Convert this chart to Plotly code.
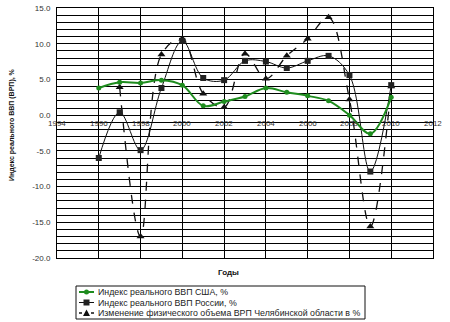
import plotly.graph_objects as go

# ---- data ----
years_usa = list(range(1996, 2011))
usa = [3.8, 4.6, 4.5, 4.9, 4.2, 1.3, 1.9, 2.6, 3.8, 3.2, 2.7, 2.0, 0.0, -2.6, 2.5]

years_rus = list(range(1996, 2011))
rus = [-6.0, 0.4, -4.9, 3.8, 10.4, 5.2, 4.9, 7.6, 7.5, 6.6, 7.6, 8.3, 5.6, -7.9, 4.2]

years_chel = list(range(1997, 2011))
chel = [3.9, -17.0, 8.5, 10.7, 3.0, 1.1, 8.6, 5.1, 8.3, 10.7, 13.7, 2.2, -15.6, 4.0]

x_ticks = [1994, 1996, 1998, 2000, 2002, 2004, 2006, 2008, 2010, 2012]
x_tick_labels = [str(v) for v in x_ticks]

y_grid = list(range(-20, 16))
y_tick_labels = [("%.1f" % v) if v % 5 == 0 else "" for v in y_grid]

names = [
    "Индекс реального ВВП США, %",
    "Индекс реального ВВП России, %",
    "Изменение физического объема ВРП Челябинской области в %",
]
x_title = "Годы"
y_title = "Индекс реального ВВП (ВРП), %"

GREEN = "#1e8c1e"
BLACK = "#111111"
FONT = "Liberation Sans"

fig = go.Figure()
fig.add_trace(go.Scatter(
    x=years_chel, y=chel, name=names[2], mode="lines+markers",
    line=dict(color=BLACK, width=1.3, dash="dash", shape="spline", smoothing=1.0),
    marker=dict(symbol="triangle-up", size=7, color=BLACK)))
fig.add_trace(go.Scatter(
    x=years_rus, y=rus, name=names[1], mode="lines+markers",
    line=dict(color=BLACK, width=1, shape="spline", smoothing=1.0),
    marker=dict(symbol="square", size=6, color="#222222")))
fig.add_trace(go.Scatter(
    x=years_usa, y=usa, name=names[0], mode="lines+markers",
    line=dict(color=GREEN, width=2, shape="spline", smoothing=1.0),
    marker=dict(symbol="circle", size=5, color=GREEN)))

L, R, T, B = 57, 17, 8, 64
W, H = 450, 322
pw, ph = W - L - R, H - T - B


def px(x):
    return (x - L) / pw


def py(y):
    return (H - B - y) / ph


ymin, ymax = -20, 15
fig.update_layout(
    template="none",
    width=W, height=H, margin=dict(l=L, r=R, t=T, b=B),
    paper_bgcolor="white", plot_bgcolor="white",
    showlegend=False,
    font=dict(family=FONT, size=8, color="#222222"),
    xaxis=dict(range=[1994, 2012], tickmode="array", tickvals=x_ticks,
               showticklabels=False,
               showgrid=True, gridcolor="black", gridwidth=1,
               showline=True, linecolor="black", linewidth=1, mirror=True,
               ticks="", zeroline=False),
    yaxis=dict(range=[ymin, ymax], tickmode="array", tickvals=y_grid,
               ticktext=y_tick_labels,
               showgrid=True, gridcolor="black", gridwidth=1,
               showline=True, linecolor="black", linewidth=1, mirror=True,
               zeroline=True, zerolinecolor="black", zerolinewidth=1, ticks="",
               ticklabelstandoff=4,
               tickfont=dict(family=FONT, size=8, color="#333333")),
)

shapes = []
# compact legend box, as in the reference
lx0, lx1, ly0, ly1 = 76, 365, 286, 319
shapes.append(dict(type="rect", xref="paper", yref="paper",
                   x0=px(lx0), x1=px(lx1), y0=py(ly1), y1=py(ly0),
                   line=dict(color=BLACK, width=1), fillcolor="white"))
rows = [292, 302.5, 313]
styles = [(GREEN, 2, "solid"), (BLACK, 1, "solid"), (BLACK, 1.3, "dash")]
for i, ((col, w, d), yy) in enumerate(zip(styles, rows)):
    shapes.append(dict(type="line", xref="paper", yref="paper",
                       x0=px(79), x1=px(94), y0=py(yy), y1=py(yy),
                       line=dict(color=col, width=w, dash="solid" if d == "solid" else "dot")))
    if i == 0:
        shapes.append(dict(type="circle", xref="paper", yref="paper",
                           xsizemode="pixel", ysizemode="pixel",
                           xanchor=px(86.5), yanchor=py(yy),
                           x0=-2.5, x1=2.5, y0=-2.5, y1=2.5,
                           fillcolor=GREEN, line=dict(color=GREEN, width=0)))
    elif i == 1:
        shapes.append(dict(type="rect", xref="paper", yref="paper",
                           xsizemode="pixel", ysizemode="pixel",
                           xanchor=px(86.5), yanchor=py(yy),
                           x0=-3, x1=3, y0=-3, y1=3,
                           fillcolor="#222222", line=dict(color="#222222", width=0)))
    else:
        shapes.append(dict(type="path", xref="paper", yref="paper",
                           xsizemode="pixel", ysizemode="pixel",
                           xanchor=px(86.5), yanchor=py(yy),
                           path="M -3.5 -3 L 3.5 -3 L 0 3.5 Z",
                           fillcolor=BLACK, line=dict(color=BLACK, width=0)))
fig.update_layout(shapes=shapes)

ann = []
# x tick labels sit just below the zero line, as in the reference
for v, lab in zip(x_ticks, x_tick_labels):
    ann.append(dict(text=lab, xref="x", yref="y", x=v, y=0,
                    xanchor="center", yanchor="top", yshift=-2, showarrow=False,
                    font=dict(family=FONT, size=8, color="#333333")))
for name, yy in zip(names, rows):
    ann.append(dict(text=name, xref="paper", yref="paper", x=px(96), y=py(yy),
                    xanchor="left", yanchor="middle", showarrow=False,
                    font=dict(family=FONT, size=8.8, color="#222222")))
ann.append(dict(text="<b>" + x_title + "</b>", xref="paper", yref="paper",
                x=px(228), y=py(272), xanchor="center", yanchor="middle",
                showarrow=False, font=dict(family=FONT, size=8, color="#111111")))
ann.append(dict(text="<b>" + y_title + "</b>", xref="paper", yref="paper",
                x=px(12), y=py(125), xanchor="center", yanchor="middle",
                textangle=-90, showarrow=False,
                font=dict(family=FONT, size=7, color="#111111")))
fig.update_layout(annotations=ann)

fig.write_html("out.html")
